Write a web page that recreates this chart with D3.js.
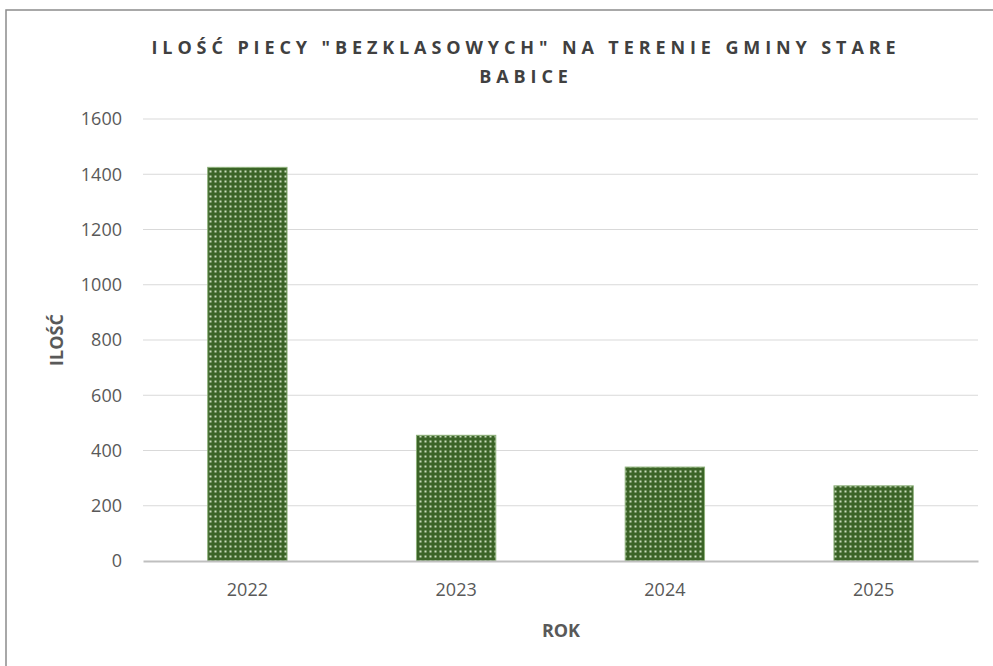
<!DOCTYPE html>
<html>
<head>
<meta charset="utf-8">
<script src="https://cdn.jsdelivr.net/npm/d3@7"></script>
<style>
  body { margin: 0; background: #fff; }
  svg { display: block; font-family: "Open Sans", "Noto Sans", sans-serif; }
</style>
</head>
<body>
<svg id="chart" width="993" height="666"></svg>
<script>
'use strict';

var years  = ["2022", "2023", "2024", "2025"];
var counts = [1425, 455, 340, 272];
var yTicks = [0, 200, 400, 600, 800, 1000, 1200, 1400, 1600];
var titleLines = ['ILOŚĆ PIECY "BEZKLASOWYCH" NA TERENIE GMINY STARE', 'BABICE'];

var W = 993, H = 666,
    margin = {top: 119, right: 15, bottom: 105, left: 143},
    width  = W - margin.left - margin.right,
    height = H - margin.top - margin.bottom;

var svg = d3.select("#chart");

// frame of the chart area
svg.append("rect")
    .attr("x", 6).attr("y", 10)
    .attr("width", W).attr("height", H)
    .style("fill", "none")
    .style("stroke", "#8c8c8c")
    .style("stroke-width", 1.5);

// dotted fill like excel's pattern
var defs = svg.append("defs");
var pat = defs.append("pattern")
    .attr("id", "dots")
    .attr("patternUnits", "userSpaceOnUse")
    .attr("width", 5).attr("height", 5);
pat.append("rect").attr("width", 5).attr("height", 5).style("fill", "#3b6427");
pat.append("rect").attr("x", 1.5).attr("y", 1.5).attr("width", 2).attr("height", 2)
    .style("fill", "#c9dcbc");

var x = d3.scaleBand().domain(years).range([0, width]).paddingInner(0.62).paddingOuter(0.31);
var y = d3.scaleLinear().domain([0, 1600]).range([height, 0]);

var g = svg.append("g").attr("transform", "translate(" + margin.left + "," + margin.top + ")");

// grid lines
g.selectAll("line.grid").data(yTicks.slice(1)).enter().append("line")
    .attr("class", "grid")
    .attr("x1", 0).attr("x2", width)
    .attr("y1", function(d){ return y(d); })
    .attr("y2", function(d){ return y(d); })
    .style("stroke", "#d9d9d9")
    .style("stroke-width", 1);

// bars
g.selectAll("rect.bar").data(counts).enter().append("rect")
    .attr("class", "bar")
    .attr("x", function(d, i){ return x(years[i]); })
    .attr("y", function(d){ return y(d); })
    .attr("width", x.bandwidth())
    .attr("height", function(d){ return height - y(d); })
    .style("fill", "url(#dots)")
    .style("stroke", "#8db07a")
    .style("stroke-width", 1);

// y axis
var yAxis = d3.axisLeft(y).tickValues(yTicks).tickFormat(d3.format("d"))
    .tickSize(0).tickPadding(21);
var ya = g.append("g").call(yAxis);
ya.select(".domain").remove();
ya.selectAll("text").style("font-size", "18px").style("fill", "#595959")
    .style("font-family", "'Open Sans', sans-serif");

// x axis
var xAxis = d3.axisBottom(x).tickSize(0).tickPadding(22);
var xa = g.append("g").attr("transform", "translate(0," + height + ")").call(xAxis);
xa.select(".domain").style("stroke", "#bfbfbf").style("stroke-width", 2);
xa.selectAll("text").style("font-size", "18px").style("fill", "#595959")
    .style("font-family", "'Open Sans', sans-serif");

// title
svg.append("g").selectAll("text").data(titleLines).enter().append("text")
    .attr("x", 526)
    .attr("y", function(d, i){ return 54 + i * 29; })
    .attr("text-anchor", "middle")
    .style("font-family", "'Open Sans', sans-serif")
    .style("font-weight", "bold")
    .style("font-size", "18px")
    .style("letter-spacing", "4.9px")
    .style("fill", "#404040")
    .text(function(d){ return d; });

// axis titles
svg.append("text")
    .attr("transform", "translate(63,340) rotate(-90)")
    .attr("text-anchor", "middle")
    .style("font-weight", "bold")
    .style("font-size", "18px")
    .style("fill", "#595959")
    .text("ILOŚĆ");

svg.append("text")
    .attr("x", 561).attr("y", 637)
    .attr("text-anchor", "middle")
    .style("font-weight", "bold")
    .style("font-size", "18px")
    .style("fill", "#595959")
    .text("ROK");
</script>
</body>
</html>
